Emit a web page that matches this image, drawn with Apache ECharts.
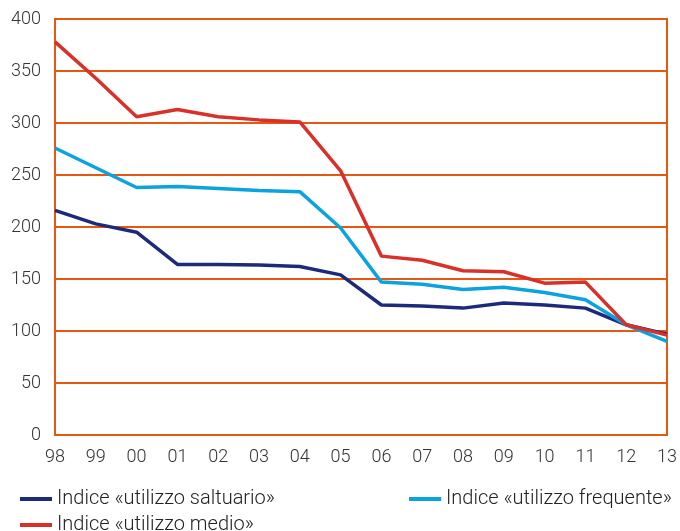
<!DOCTYPE html>
<html>
<head>
<meta charset="utf-8">
<script src="https://cdn.jsdelivr.net/npm/echarts@6/dist/echarts.min.js"></script>
<style>
  html, body { margin: 0; padding: 0; background: #fff; }
  #main { width: 680px; height: 531px; }
</style>
</head>
<body>
<div id="main"></div>
<script>
// anni (asse x)
const anni = ['98', '99', '00', '01', '02', '03', '04', '05', '06', '07', '08', '09', '10', '11', '12', '13'];
// serie
const saltuario = [216, 203, 195, 164, 164, 163.5, 162, 154, 125, 124, 122, 127, 125, 122, 106, 97];
const frequente = [276, 257, 238, 239, 237, 235, 234, 199, 147, 145, 140, 142, 137, 130, 106, 90];
const medio = [378, 343, 306, 313, 306, 303, 301, 254, 172, 168, 158, 157, 146, 147, 106, 96];

const nomi = ['Indice «utilizzo saltuario»', 'Indice «utilizzo frequente»', 'Indice «utilizzo medio»'];
const colori = ['#1d2a7a', '#0aa3e0', '#d9302a'];
const arancio = '#e8570f';
const font = 'Roboto, sans-serif';

const myChart = echarts.init(document.getElementById('main'));

const legendBase = {
  icon: 'rect',
  itemWidth: 32,
  itemHeight: 4,
  itemGap: 6,
  textStyle: { color: '#222', fontSize: 20, fontWeight: 300, fontFamily: font }
};

const option = {
  animation: false,
  color: colori,
  grid: {
    left: 55, right: 12, top: 19, bottom: 96,
    show: true, borderColor: arancio, borderWidth: 2
  },
  legend: [
    Object.assign({ left: 15, top: 484, data: [nomi[0]] }, legendBase),
    Object.assign({ left: 404, top: 484, data: [nomi[1]] }, legendBase),
    Object.assign({ left: 15, top: 510, data: [nomi[2]] }, legendBase)
  ],
  xAxis: {
    type: 'category',
    data: anni,
    boundaryGap: false,
    axisLine: { show: true, lineStyle: { color: arancio, width: 2 } },
    axisTick: { show: false },
    axisLabel: { color: '#333', fontSize: 18, fontWeight: 300, margin: 13, fontFamily: font }
  },
  yAxis: {
    type: 'value',
    min: 0, max: 400, interval: 50,
    axisLine: { show: true, lineStyle: { color: arancio, width: 2 } },
    axisTick: { show: false },
    splitLine: { show: true, lineStyle: { color: arancio, width: 2 } },
    axisLabel: { color: '#333', fontSize: 18, fontWeight: 300, margin: 14, fontFamily: font }
  },
  series: [
    { name: nomi[0], type: 'line', data: saltuario, symbol: 'none', lineStyle: { width: 3.5 } },
    { name: nomi[1], type: 'line', data: frequente, symbol: 'none', lineStyle: { width: 3.5 } },
    { name: nomi[2], type: 'line', data: medio, symbol: 'none', lineStyle: { width: 3.5 } }
  ]
};
myChart.setOption(option);
</script>
</body>
</html>
